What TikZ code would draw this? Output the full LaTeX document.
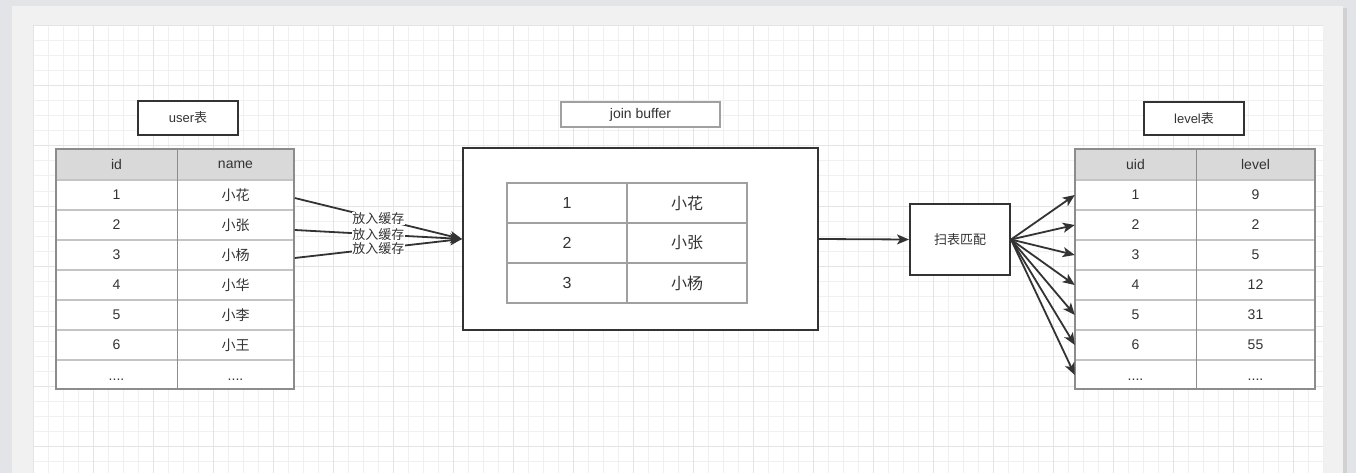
\documentclass[tikz,border=0pt]{standalone}
\usepackage{fontspec}
\setmainfont{Liberation Sans}
\newfontfamily\cjk{Noto Sans CJK SC}
\usetikzlibrary{arrows.meta}
\definecolor{txt}{HTML}{333333}
\definecolor{outerbg}{HTML}{E3E4E8}
\definecolor{pagebg}{HTML}{F1F1F1}
\definecolor{gridminor}{HTML}{F0F0F0}
\definecolor{gridmajor}{HTML}{E4E4E4}
\definecolor{hdrfill}{HTML}{D9D9D9}
\definecolor{tblborder}{HTML}{8C8C8C}
\definecolor{rowsep}{HTML}{C4C4C4}
\definecolor{innerline}{HTML}{A0A0A0}
\tikzset{
  darkbox/.style={draw=txt, line width=2pt, fill=white, inner sep=0pt, text=txt,
    font=\fontsize{13}{15}\selectfont},
  lightbox/.style={draw=innerline, line width=1.2pt, fill=white, inner sep=0pt, text=txt,
    font=\fontsize{14}{16}\selectfont},
  cellA/.style={inner sep=0pt, text=txt, minimum width=121pt, minimum height=30pt,
    font=\fontsize{14}{16}\selectfont},
  cellB/.style={inner sep=0pt, text=txt, minimum width=118pt, minimum height=30pt,
    font=\fontsize{14}{16}\selectfont},
  bufcell/.style={inner sep=0pt, text=txt, minimum width=120pt, minimum height=40pt,
    font=\fontsize{16}{18}\selectfont},
  conn/.style={draw=txt, line width=1.8pt, -{Stealth[length=12pt,width=10pt,inset=3pt]}},
  cachelbl/.style={fill=white, inner sep=0.6pt, text=txt, font=\fontsize{13}{13}\selectfont},
  rowline/.style={draw=rowsep, line width=2pt},
  colline/.style={draw=tblborder, line width=1pt},
  tblouter/.style={draw=tblborder, line width=2pt},
}
\begin{document}
\begin{tikzpicture}[x=1pt,y=-1pt]
\useasboundingbox (0,0) rectangle (1356,473);
% background
\fill[outerbg] (0,0) rectangle (1356,473);
\fill[black!18] (1343,8) rectangle (1347,473);
\fill[pagebg] (12,6) rectangle (1343,473);
\fill[white] (33,26) rectangle (1323,473);
\foreach \i in {0,...,86} {
  \draw[gridminor, line width=1pt] ({33+15*\i},26) -- ({33+15*\i},473);
}
\foreach \j in {0,...,29} {
  \draw[gridminor, line width=1pt] (33,{26+15*\j}) -- (1323,{26+15*\j});
}
\foreach \i in {0,...,21} {
  \draw[gridmajor, line width=1pt] ({33+60*\i},26) -- ({33+60*\i},473);
}
\foreach \j in {0,...,7} {
  \draw[gridmajor, line width=1pt] (33,{26+60*\j}) -- (1323,{26+60*\j});
}

% ---------- user table ----------
\node[darkbox, minimum width=100pt, minimum height=34pt] (userlbl) at (188,118) {user{\cjk 表}};
\fill[white] (56,149) rectangle (294,389);
\fill[hdrfill] (56,149) rectangle (294,180);
\foreach \y in {180,210,...,360} { \draw[rowline] (56,\y) -- (294,\y); }
\draw[colline] (177,149) -- (177,389);
\draw[tblouter] (56,149) rectangle (294,389);
\node[cellA] (uidh) at (116.5,164.5) {id};
\node[cellB] (unmh) at (235.5,164.5) {name};
\foreach \a/\b [count=\i] in {1/小花,2/小张,3/小杨,4/小华,5/小李,6/小王} {
  \node[cellA] (uid\i) at (116.5,{165+30*\i}) {\a};
  \node[cellB] (unm\i) at (235.5,{165+30*\i}) {{\cjk \b}};
}
\node[cellA] (uid7) at (116.5,380) {....};
\node[cellB] (unm7) at (235.5,380) {....};

% ---------- join buffer ----------
\node[lightbox, minimum width=159pt, minimum height=25pt] (jblbl) at (640.5,114.5) {join buffer};
\node[darkbox, minimum width=355pt, minimum height=182pt] (buf) at (640.5,239) {};
\draw[innerline, line width=1.5pt] (507,183) rectangle (747,303);
\draw[innerline, line width=1.5pt] (507,223) -- (747,223);
\draw[innerline, line width=1.5pt] (507,263) -- (747,263);
\draw[innerline, line width=1.5pt] (627,183) -- (627,303);
\foreach \a/\b [count=\i] in {1/小花,2/小张,3/小杨} {
  \node[bufcell] (bid\i) at (567,{163+40*\i}) {\a};
  \node[bufcell] (bnm\i) at (687,{163+40*\i}) {{\cjk \b}};
}

% ---------- scan box ----------
\node[darkbox, minimum width=100pt, minimum height=71pt] (scan) at (960,239.5) {{\cjk 扫表匹配}};

% ---------- level table ----------
\node[darkbox, minimum width=100pt, minimum height=33pt] (levellbl) at (1194,118.5) {level{\cjk 表}};
\fill[white] (1075,149) rectangle (1315,389);
\fill[hdrfill] (1075,149) rectangle (1315,180);
\foreach \y in {180,210,...,360} { \draw[rowline] (1075,\y) -- (1315,\y); }
\draw[colline] (1196,149) -- (1196,389);
\draw[tblouter] (1075,149) rectangle (1315,389);
\node[cellA] (lidh) at (1135.5,164.5) {uid};
\node[cellB] (llvh) at (1255.5,164.5) {level};
\foreach \a/\b [count=\i] in {1/9,2/2,3/5,4/12,5/31,6/55} {
  \node[cellA] (lid\i) at (1135.5,{165+30*\i}) {\a};
  \node[cellB] (llv\i) at (1255.5,{165+30*\i}) {\b};
}
\node[cellA] (lid7) at (1135.5,380) {....};
\node[cellB] (llv7) at (1255.5,380) {....};

% ---------- connectors ----------
\draw[conn] ([yshift=-3pt]unm1.east) -- (buf.west) node[cachelbl, pos=0.5] {{\cjk 放入缓存}};
\draw[conn] ([yshift=-5pt]unm2.east) -- (buf.west) node[cachelbl, pos=0.5] {{\cjk 放入缓存}};
\draw[conn] ([yshift=-3pt]unm3.east) -- (buf.west) node[cachelbl, pos=0.5] {{\cjk 放入缓存}};
\draw[conn] (buf.east) -- (scan.west);
\foreach \i in {1,...,6} {
  \draw[conn] (scan.east) -- (lid\i.west);
}
\draw[conn] (scan.east) -- ([yshift=5pt]lid7.west);
\end{tikzpicture}
\end{document}
